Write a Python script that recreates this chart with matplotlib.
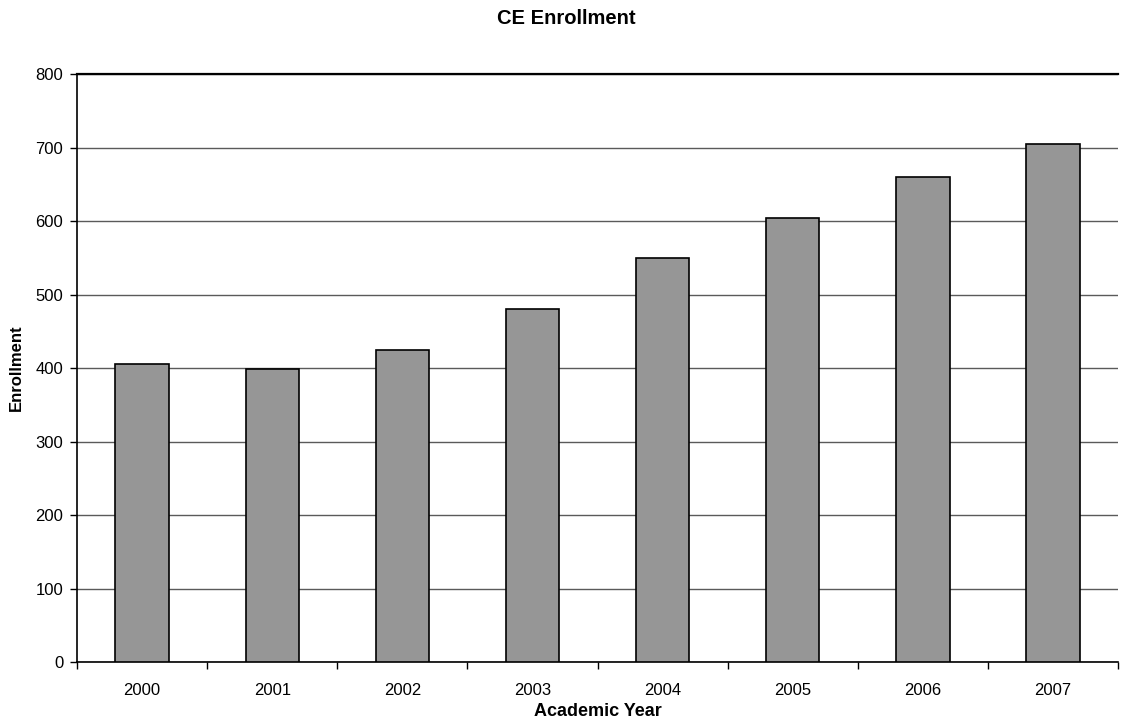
import matplotlib.pyplot as plt
import numpy as np

plt.rcParams['font.family'] = ['Liberation Sans', 'DejaVu Sans']

# Data
years = ['2000', '2001', '2002', '2003', '2004', '2005', '2006', '2007']
enrollment = [405, 399, 425, 480, 550, 605, 660, 705]

fig = plt.figure(figsize=(11.33, 7.21), dpi=100)
ax = fig.add_axes([0.068, 0.0818, 0.9188, 0.8152])

x_pos = np.arange(len(years))
ax.bar(x_pos, enrollment, width=0.41, color='#969696', edgecolor='black',
       linewidth=1.2, zorder=3)

ax.set_xlim(-0.5, len(years) - 0.5)
ax.set_ylim(0, 800)
ax.set_yticks(np.arange(0, 801, 100))

# category labels centred, tick marks at category boundaries
ax.set_xticks(x_pos)
ax.set_xticklabels(years, fontsize=12)
ax.tick_params(axis='x', which='major', length=0, pad=15)
ax.set_xticks(np.arange(-0.5, len(years)), minor=True)
ax.tick_params(axis='x', which='minor', length=5, width=1, direction='out')
ax.tick_params(axis='y', length=5, width=1, direction='out', labelsize=12, pad=5)

ax.grid(axis='y', color='#5a5a5a', linewidth=1.0, zorder=0)
ax.set_axisbelow(True)
for side in ['left', 'bottom']:
    ax.spines[side].set_linewidth(1.2)
ax.spines['top'].set_linewidth(1.6)
ax.spines['right'].set_visible(False)

ax.set_xlabel('Academic Year', fontsize=13, fontweight='bold')
ax.xaxis.set_label_coords(0.5, -0.0697)
ax.set_ylabel('Enrollment', fontsize=12, fontweight='bold')
ax.yaxis.set_label_coords(-0.0509, 0.5)
fig.text(0.5, 1 - 19 / 721, 'CE Enrollment', ha='center', va='center',
         fontsize=14.5, fontweight='bold')

plt.savefig('out.png', dpi=100)
